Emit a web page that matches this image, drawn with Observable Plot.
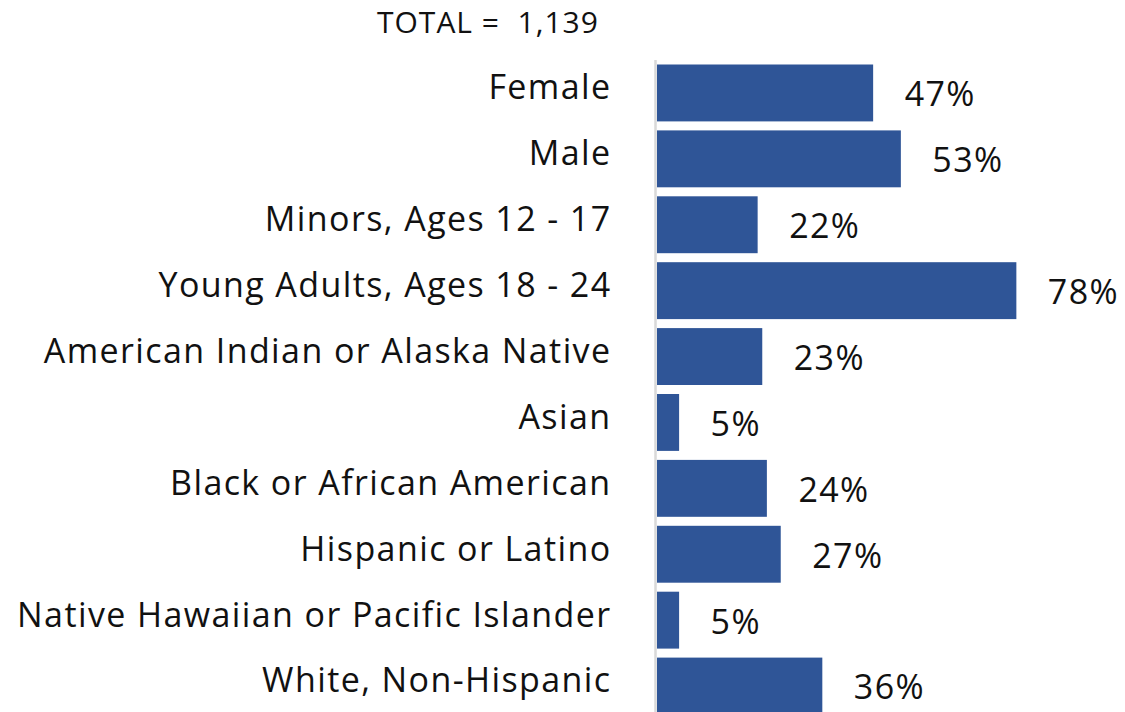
<!DOCTYPE html>
<html>
<head>
<meta charset="utf-8">
<script src="https://cdn.jsdelivr.net/npm/d3@7"></script>
<script src="https://cdn.jsdelivr.net/npm/@observablehq/plot@0.6"></script>
<style>
  html, body { margin: 0; padding: 0; background: #fff; overflow: hidden; }
  #title { height: 48px; position: relative; font-family: "Open Sans", sans-serif; }
  #title span { position: absolute; left: 377px; top: 0px; font-size: 30px; letter-spacing: 1px; line-height: 44px; color: #111; white-space: pre; }
  svg { display: block; }
  svg text { letter-spacing: 1.4px; }
</style>
</head>
<body>
<div id="title"><span>TOTAL =  1,139</span></div>
<div id="chart"></div>
<script>
const categories = [
  "Female",
  "Male",
  "Minors, Ages 12 - 17",
  "Young Adults, Ages 18 - 24",
  "American Indian or Alaska Native",
  "Asian",
  "Black or African American",
  "Hispanic or Latino",
  "Native Hawaiian or Pacific Islander",
  "White, Non-Hispanic"
];
const values = [47, 53, 22, 78, 23, 5, 24, 27, 5, 36];

const data = categories.map((c, i) => ({category: c, value: values[i]}));

const chart = Plot.plot({
  width: 1125,
  height: 671,
  marginLeft: 656,
  marginRight: 7,
  marginTop: 12,
  marginBottom: 0,
  style: {fontFamily: "'Open Sans', sans-serif", fontSize: "34px", color: "#111", background: "#fff"},
  x: {domain: [0, 100], axis: null},
  y: {domain: categories, padding: 0, round: false, label: null},
  marks: [
    Plot.ruleX([0], {stroke: "#d9d9d9", strokeWidth: 2.5, dx: -1}),
    Plot.barX(data, {x: "value", y: "category", fill: "#2F5597", insetLeft: 1, insetTop: 4.5, insetBottom: 4.5}),
    Plot.text(data, {x: "value", y: "category", text: d => d.value + "%", textAnchor: "start", dx: 31, dy: 2, fontSize: 34, fill: "#111"}),
    Plot.axisY({tickSize: 0, tickPadding: 45, fontSize: 34, label: null, fill: "#111", dy: -5})
  ]
});
document.getElementById("chart").appendChild(chart);
</script>
</body>
</html>
